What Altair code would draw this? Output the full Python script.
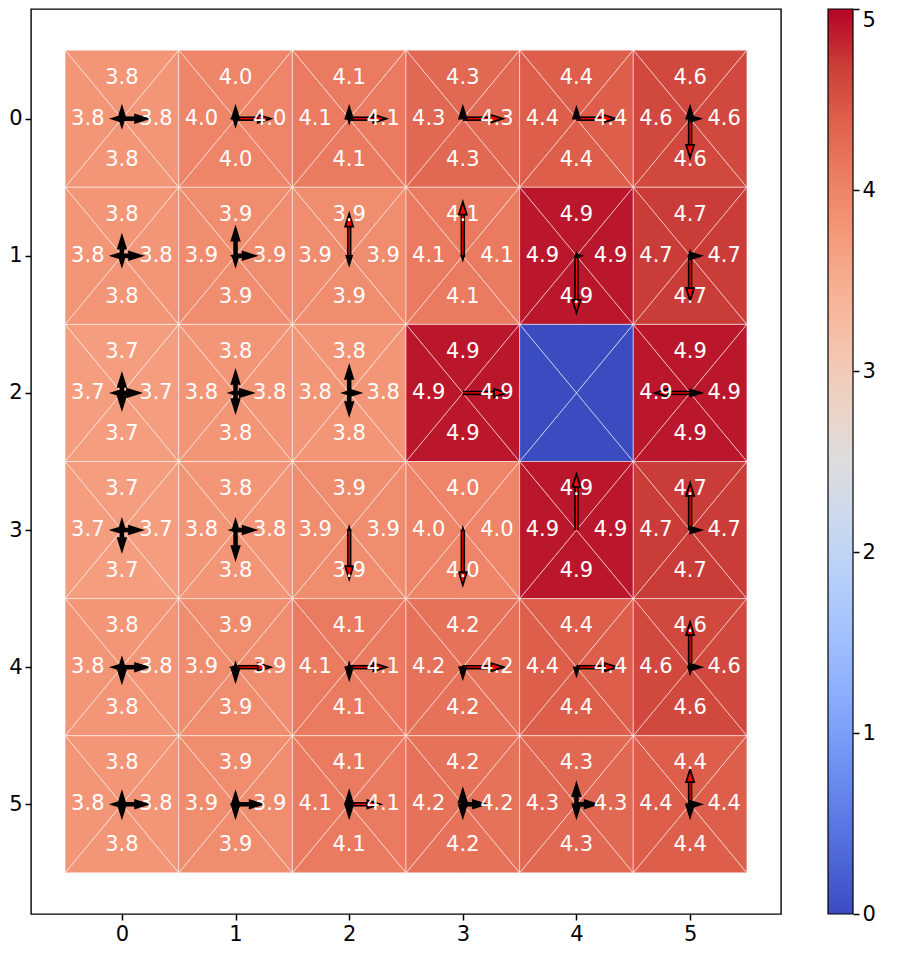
import altair as alt
import pandas as pd

N_ROWS, N_COLS = 6, 6

# value shown in every cell (row 0 = top row); the blocked cell holds 0
values = [
    [3.8, 4.0, 4.1, 4.3, 4.4, 4.6],
    [3.8, 3.9, 3.9, 4.1, 4.9, 4.7],
    [3.7, 3.8, 3.8, 4.9, 0.0, 4.9],
    [3.7, 3.8, 3.9, 4.0, 4.9, 4.7],
    [3.8, 3.9, 4.1, 4.2, 4.4, 4.6],
    [3.8, 3.9, 4.1, 4.2, 4.3, 4.4],
]
blocked = [(2, 4)]

# policy arrow lengths (screen units) per cell and direction
arrow_up = [
    [12, 12, 12, 12, 11, 12],
    [20, 28, 42, 54, 2, 4],
    [19, 22, 27, 0, 0, 0],
    [10, 10, 3, 2, 56, 47],
    [9, 4, 4, 0, 0, 45],
    [12, 12, 13, 15, 21, 35],
]
arrow_down = [
    [8, 7, 4, 0, 0, 39],
    [10, 10, 9, 4, 57, 45],
    [16, 19, 22, 0, 0, 0],
    [21, 29, 49, 55, 0, 0],
    [15, 14, 12, 11, 8, 6],
    [13, 13, 13, 13, 13, 13],
]
arrow_left = [
    [10, 3, 2, 1, 0, 1],
    [10, 3, 1, 0, 0, 0],
    [10, 6, 6, 0, 0, 35],
    [10, 5, 0, 0, 0, 0],
    [10, 4, 2, 2, 0, 0],
    [10, 3, 2, 0, 0, 0],
]
arrow_right = [
    [26, 35, 37, 40, 39, 10],
    [20, 20, 1, 0, 5, 11],
    [18, 17, 11, 44, 0, 11],
    [20, 20, 0, 0, 0, 11],
    [26, 35, 37, 41, 41, 11],
    [26, 27, 31, 23, 21, 11],
]

tick_values = [0, 1, 2, 3, 4, 5]
cbar_ticks = [0, 1, 2, 3, 4, 5]
VMIN, VMAX = 0, 5

# matplotlib "coolwarm" samples
cw_pos = [0.0, 0.0625, 0.125, 0.1875, 0.25, 0.3125, 0.375, 0.4375, 0.5,
          0.5625, 0.625, 0.6875, 0.75, 0.8125, 0.875, 0.9375, 1.0]
cw_colors = ["#3b4cc0", "#4d68d7", "#6282ea", "#779af7", "#8db0fe", "#a3c2fe",
             "#b8d0f9", "#ccd9ee", "#dddddd", "#ecd3c6", "#f5c4ad", "#f7b194",
             "#f49a7b", "#ec7f63", "#de614d", "#cb3e38", "#b40426"]

# ---------------- layout / style ----------------
W, H = 750, 905
LO, HI = -0.8, 5.8
PX_X = W / (HI - LO)
PX_Y = H / (HI - LO)
FONT = "DejaVu Sans"
FS = 21
HEAD_LEN = 13.0
HEAD_HALF_W = 4.0

# ---------------- tables ----------------
tri_v, tri_h, texts, arrows = [], [], [], []
for r in range(N_ROWS):
    for c in range(N_COLS):
        v = values[r][c]
        for side, edge in (("top", r - 0.5), ("bottom", r + 0.5)):
            tid = f"{r}-{c}-{side}"
            for xx, yy in ((c - 0.5, edge), (c, r), (c + 0.5, edge)):
                tri_v.append(dict(tid=tid, v=v, x=xx, ya=edge, yb=yy))
        for side, edge in (("left", c - 0.5), ("right", c + 0.5)):
            tid = f"{r}-{c}-{side}"
            for yy, xx in ((r - 0.5, edge), (r, c), (r + 0.5, edge)):
                tri_h.append(dict(tid=tid, v=v, y=yy, xa=edge, xb=xx))
        if (r, c) in blocked:
            continue
        lab = f"{v:.1f}"
        for dx, dy in ((0, -0.3), (0, 0.3), (-0.3, 0), (0.3, 0)):
            texts.append(dict(x=c + dx, y=r + dy, label=lab))
        for L, ux, uy, ang in ((arrow_up[r][c], 0, -1, 0),
                               (arrow_down[r][c], 0, 1, 180),
                               (arrow_left[r][c], -1, 0, 270),
                               (arrow_right[r][c], 1, 0, 90)):
            if L < 1.5:
                continue
            hl = min(HEAD_LEN, L)
            shaft = max(L - 0.75 * hl, 0)
            arrows.append(dict(
                x0=c, y0=r,
                x1=c + ux * L / PX_X, y1=r + uy * L / PX_Y,
                xs=c + ux * shaft / PX_X, ys=r + uy * shaft / PX_Y,
                shaft=shaft, L=L, ang=ang,
                hsize=(2 * HEAD_HALF_W * hl / HEAD_LEN) ** 2,
            ))

df_v = pd.DataFrame(tri_v)
df_h = pd.DataFrame(tri_h)
df_t = pd.DataFrame(texts)
df_a = pd.DataFrame(arrows)

xscale = alt.Scale(domain=[LO, HI], nice=False, zero=False)
yscale = alt.Scale(domain=[LO, HI], nice=False, zero=False, reverse=True)
cscale = alt.Scale(type="linear", domain=[VMIN + p * (VMAX - VMIN) for p in cw_pos],
                   range=cw_colors, interpolate="rgb")

axis_style = dict(values=tick_values, format="d", title=None, grid=False, domain=False,
                  tickSize=6, tickWidth=1.5, tickColor="black", labelPadding=3,
                  labelFontSize=FS, labelFont=FONT, labelColor="black")
xaxis = alt.Axis(orient="bottom", **axis_style)
yaxis = alt.Axis(orient="left", **axis_style)


def X(field):
    return alt.X(field, type="quantitative", scale=xscale, axis=xaxis, title=None)


def Y(field):
    return alt.Y(field, type="quantitative", scale=yscale, axis=yaxis, title=None)


tri_top = alt.Chart(df_v).mark_area(orient="vertical", stroke="white", strokeWidth=0.6,
                                     strokeOpacity=0.85, interpolate="linear").encode(
    x=X("x"),
    y=alt.Y("ya:Q", scale=yscale, axis=yaxis, title=None, stack=None),
    y2="yb:Q",
    color=alt.Color("v:Q", scale=cscale, legend=None),
    detail="tid:N",
)
tri_side = alt.Chart(df_h).mark_area(orient="horizontal", stroke="white", strokeWidth=0.6,
                                      strokeOpacity=0.85, interpolate="linear").encode(
    y=Y("y"),
    x=alt.X("xa:Q", scale=xscale, axis=xaxis, title=None, stack=None),
    x2="xb:Q",
    color=alt.Color("v:Q", scale=cscale, legend=None),
    detail="tid:N",
)

base_a = alt.Chart(df_a)
shaft_black = base_a.transform_filter("datum.shaft > 0.5").mark_rule(
    color="black", strokeWidth=4.5, strokeCap="butt").encode(
    x=X("x0"), y=Y("y0"), x2="xs:Q", y2="ys:Q",
)
shaft_red = base_a.transform_filter("datum.L >= 30").mark_rule(
    color="#ff0000", strokeWidth=1.3, strokeCap="butt").encode(
    x=X("x0"), y=Y("y0"), x2="xs:Q", y2="ys:Q",
)
heads = base_a.mark_point(shape="M0,0L-1,3.2L1,3.2Z", filled=True,
                          stroke="black", strokeWidth=1.8, opacity=1).encode(
    x=X("x1"), y=Y("y1"),
    angle=alt.Angle("ang:Q", scale=None),
    size=alt.Size("hsize:Q", scale=None),
    fill=alt.condition("datum.L >= 30", alt.value("#ff0000"), alt.value("black")),
)

labels = alt.Chart(df_t).mark_text(color="white", font=FONT, fontSize=FS,
                                   align="center", baseline="middle").encode(
    x=X("x"), y=Y("y"), text="label:N",
)

main = alt.layer(tri_top, tri_side, shaft_black, shaft_red, heads, labels)

# colorbar
CB_GAP = 47
CB_W = 25
gradient = alt.LinearGradient(
    gradient="linear", x1=0, x2=0, y1=1, y2=0,
    stops=[alt.GradientStop(color=col, offset=p) for p, col in zip(cw_pos, cw_colors)],
)
cbar = alt.Chart(pd.DataFrame({"lo": [VMIN], "hi": [VMAX]})).mark_rect(
    fill=gradient, stroke="black", strokeWidth=1.2).encode(
    x=alt.value(W + CB_GAP), x2=alt.value(W + CB_GAP + CB_W),
    y=alt.Y("lo:Q", scale=alt.Scale(domain=[VMIN, VMAX], nice=False, zero=False),
            axis=alt.Axis(orient="right", offset=CB_GAP + CB_W, values=cbar_ticks,
                          format="d", title=None, grid=False, domain=False,
                          tickSize=6, tickWidth=1.5, tickColor="black", labelPadding=3,
                          labelFontSize=FS, labelFont=FONT, labelColor="black",
                          labelBaseline={"condition": {"test": "datum.value >= 5", "value": "top"},
                                         "value": "middle"})),
    y2="hi:Q",
)

chart = alt.layer(main, cbar).resolve_scale(y="independent").properties(
    width=W, height=H, padding={"left": 0, "top": 0, "right": 0, "bottom": 0},
    background="white",
).configure_view(stroke="black", strokeWidth=1.4)

chart.save("out.html", embed_options={"renderer": "svg", "actions": False})
